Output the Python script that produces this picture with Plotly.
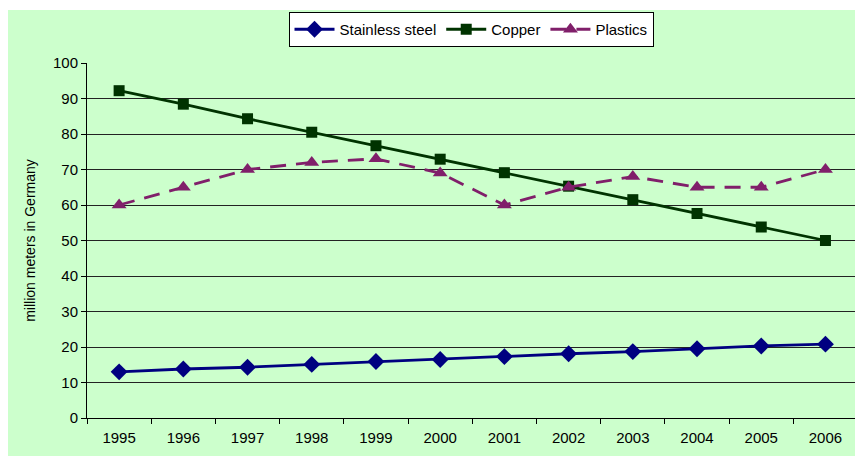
import plotly.graph_objects as go

years = ["1995", "1996", "1997", "1998", "1999", "2000",
         "2001", "2002", "2003", "2004", "2005", "2006"]
stainless_steel = [13.0, 13.8, 14.3, 15.1, 15.9, 16.5, 17.3, 18.1, 18.7, 19.5, 20.3, 20.8]
copper = [92.2, 88.4, 84.3, 80.5, 76.7, 72.9, 69.1, 65.3, 61.5, 57.6, 53.8, 50.0]
plastics = [60, 65, 70, 72, 73, 69, 60, 65, 68, 65, 65, 70]
y_ticks = list(range(0, 101, 10))

W, H = 855, 457
ML, MR, MT, MB = 87, 0, 63, 39

fig = go.Figure()
fig.add_trace(go.Scatter(
    x=years, y=stainless_steel, name="Stainless steel", mode="lines+markers",
    line=dict(color="#000080", width=2.8),
    marker=dict(symbol="diamond", size=13, color="#000080"),
))
fig.add_trace(go.Scatter(
    x=years, y=copper, name="Copper", mode="lines+markers",
    line=dict(color="#003300", width=2.8),
    marker=dict(symbol="square", size=11, color="#003300"),
))
fig.add_trace(go.Scatter(
    x=years, y=plastics, name="Plastics", mode="lines+markers",
    line=dict(color="#801F6A", width=2.8, dash="16px,10px"),
    marker=dict(symbol="triangle-up", size=13, color="#801F6A"),
))

# light green chart area behind everything (pixel -> paper coordinates)
pw, ph = W - ML - MR, H - MT - MB
def px_x(p):
    return (p - ML) / pw
def px_y(p):
    return (H - MB - p) / ph

fig.add_shape(type="rect", xref="paper", yref="paper", layer="below",
              x0=px_x(8), x1=px_x(856), y0=px_y(456), y1=px_y(10),
              fillcolor="#CCFFCC", line=dict(width=0))

fig.update_layout(
    width=W, height=H,
    margin=dict(l=ML, r=MR, t=MT, b=MB),
    paper_bgcolor="white",
    plot_bgcolor="rgba(0,0,0,0)",
    font=dict(family="Liberation Sans, Arial, sans-serif", size=15, color="black"),
    showlegend=True,
    legend=dict(
        orientation="h", x=0.5, xanchor="center", y=px_y(12), yanchor="top",
        bgcolor="white", bordercolor="black", borderwidth=1,
        font=dict(size=15), itemwidth=40, tracegroupgap=0,
    ),
    xaxis=dict(
        type="category", range=[-0.5, 11.46], tickson="boundaries",
        ticks="outside", ticklen=5, tickcolor="black",
        showline=True, linecolor="black", linewidth=1,
        showgrid=False, tickfont=dict(size=15), ticklabelstandoff=6,
    ),
    yaxis=dict(
        range=[0, 100], tickvals=y_ticks, ticks="outside", ticklen=5,
        tickcolor="black", showline=True, linecolor="black", linewidth=1,
        showgrid=True, gridcolor="#222222", gridwidth=1, zeroline=False,
        tickfont=dict(size=15),
        title=dict(text="million meters in Germany", font=dict(size=14), standoff=14),
    ),
)

fig.write_html("out.html")
